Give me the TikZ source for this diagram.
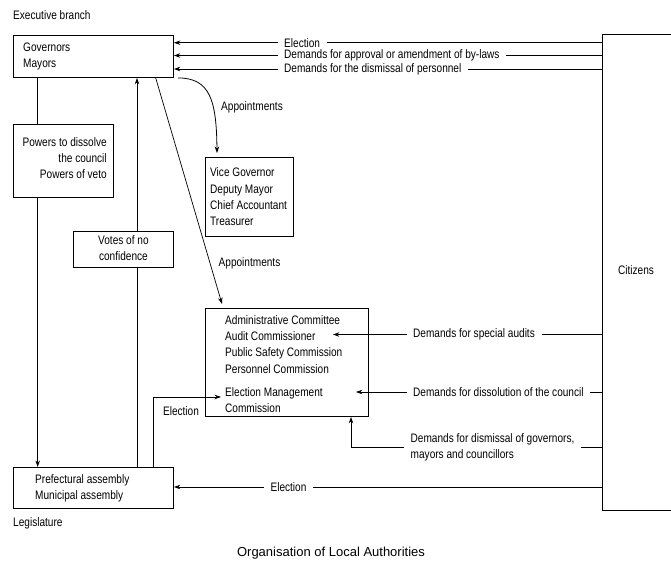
\documentclass[tikz,border=0pt]{standalone}
\usepackage{fontspec}
\setmainfont{Liberation Sans}[FakeStretch=0.82]
\newfontfamily\titlefont{Liberation Sans}
\usetikzlibrary{arrows.meta}
\begin{document}
\begin{tikzpicture}[x=1pt,y=-1pt,
  font=\fontsize{12.3}{16.3}\selectfont,
  box/.style={draw, line width=0.9pt, fill=white, anchor=north west, inner sep=0pt},
  boxtext/.style={inner sep=0pt, align=left, anchor=west},
  conn/.style={line width=0.8pt},
  arr/.style={conn, -{Stealth[length=6.5pt,width=4.5pt]}},
  lbl/.style={inner xsep=6.5pt, inner ysep=1pt},
]
\useasboundingbox (0,0) rectangle (671,573);

% headings
\node[anchor=west, inner sep=0pt] (exec) at (13,15) {Executive branch};
\node[anchor=west, inner sep=0pt] (legis) at (13,523) {Legislature};
\node[font=\titlefont\fontsize{13}{15}\selectfont] (title) at (331,553) {Organisation of Local Authorities};

% boxes and their texts
\node[box, minimum width=160pt, minimum height=42pt] (gov) at (13,35) {};
\node[boxtext] (govT) at ([xshift=10pt]gov.west) {Governors\\Mayors};
\node[box, minimum width=100pt, minimum height=73pt] (powers) at (13,124) {};
\node[boxtext, align=right, anchor=east] (powersT) at ([xshift=-7pt,yshift=3pt]powers.east) {Powers to dissolve\\the council\\Powers of veto};
\node[box, minimum width=88pt, minimum height=79pt] (vice) at (205,157) {};
\node[boxtext] (viceT) at ([xshift=5pt]vice.west) {Vice Governor\\Deputy Mayor\\Chief Accountant\\Treasurer};
\node[box, minimum width=100pt, minimum height=36pt] (votes) at (73,231) {};
\node[boxtext, align=center, anchor=center] (votesT) at ([yshift=1pt]votes.center) {Votes of no\\confidence};
\node[box, minimum width=163pt, minimum height=108pt] (admin) at (205,308) {};
\node[boxtext] (adminT) at ([xshift=20pt,yshift=-1.5pt]admin.west) {Administrative Committee\\Audit Commissioner\\Public Safety Commission\\Personnel Commission\\[6.5pt]Election Management\\Commission};
\node[box, minimum width=160pt, minimum height=41pt] (leg) at (13,467) {};
\node[boxtext] (legT) at ([xshift=22pt,yshift=-0.5pt]leg.west) {Prefectural assembly\\Municipal assembly};
\node[box, minimum width=100pt, minimum height=476pt] (cit) at (602,34) {};
\node (citT) at (636,270) {Citizens};

% executive <-> legislature
\draw[conn] ([xshift=24.7pt]gov.south west) -- ([xshift=24.7pt]powers.north west);
\draw[arr] ([xshift=24.7pt]powers.south west) -- ([xshift=24.7pt]leg.north west);
\draw[conn] ([xshift=124pt]leg.north west) -- ([xshift=64pt]votes.south west);
\draw[arr] ([xshift=64pt]votes.north west) -- ([xshift=124pt]gov.south west);

% election of the management commission by the assembly
\draw[arr] ([xshift=140pt]leg.north west) |- ([xshift=16pt,yshift=-89pt]admin.north west);
\node (elec3) at (181,411) {Election};

% appointments
\draw[arr] ([xshift=4pt]gov.south east) .. controls (210,78) and (216.5,100) .. ([xshift=12pt,yshift=4pt]vice.north west);
\node (app1) at (252,107) {Appointments};
\draw[arr, line width=0.7pt] ([xshift=142.7pt]gov.south west) -- ([xshift=17pt,yshift=4pt]admin.north west);
\node (app2) at (249.5,263) {Appointments};

% citizens -> executive
\node[lbl, anchor=west] (e1) at (277.5,42.7) {Election};
\draw[arr] (e1.west) -- (gov.east |- e1.west);
\draw[conn] (e1.east) -- (cit.west |- e1.east);
\node[lbl, anchor=west] (byl) at (277.5,55.5) {Demands for approval or amendment of by-laws};
\draw[arr] (byl.west) -- (gov.east |- byl.west);
\draw[conn] (byl.east) -- (cit.west |- byl.east);
\node[lbl, anchor=west] (pers) at (277.5,69) {Demands for the dismissal of personnel};
\draw[arr] (pers.west) -- (gov.east |- pers.west);
\draw[conn] (pers.east) -- (cit.west |- pers.east);

% citizens -> committees
\node[lbl, anchor=west] (sa) at (406.5,334.5) {Demands for special audits};
\draw[arr, shorten >=-36pt] (sa.west) -- (admin.east |- sa.west);
\draw[conn] (sa.east) -- (cit.west |- sa.east);
\node[lbl, anchor=west] (dis) at (406.5,392) {Demands for dissolution of the council};
\draw[arr, shorten >=-13pt] (dis.west) -- (admin.east |- dis.west);
\draw[conn] (dis.east) -- (cit.west |- dis.east);
\node[lbl, anchor=west, align=left] (dm) at (404,447.5) {Demands for dismissal of governors,\\mayors and councillors};
\draw[arr] (dm.west) -| ([xshift=146pt]admin.south west);
\draw[conn] (dm.east) -- (cit.west |- dm.east);

% citizens -> legislature
\node[lbl] (e2) at (288.5,487) {Election};
\draw[arr] (e2.west) -- (leg.east |- e2.west);
\draw[conn] (e2.east) -- (cit.west |- e2.east);
\end{tikzpicture}
\end{document}
